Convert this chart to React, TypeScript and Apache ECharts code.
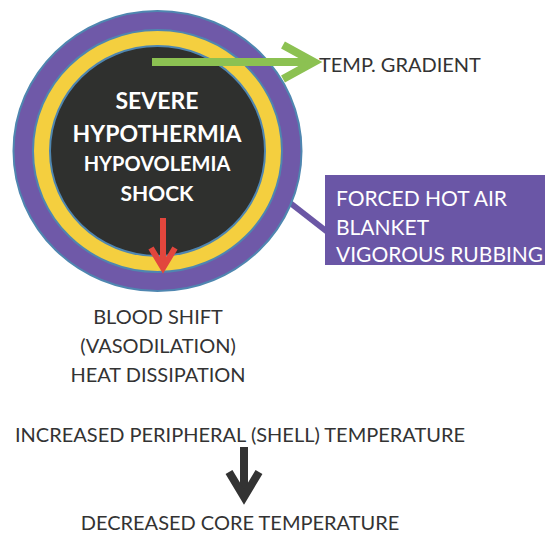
import React, { useEffect, useRef } from "react";
import * as echarts from "echarts";

const coreLines = ["SEVERE", "HYPOTHERMIA", "HYPOVOLEMIA", "SHOCK"];
const gradientLabel = ["TEMP. GRADIENT"];
const treatmentLines = ["FORCED HOT AIR", "BLANKET", "VIGOROUS RUBBING"];
const shiftLines = ["BLOOD SHIFT", "(VASODILATION)", "HEAT DISSIPATION"];
const flowLines = ["INCREASED PERIPHERAL (SHELL) TEMPERATURE", "DECREASED CORE TEMPERATURE"];

const FONT = "Lato, 'Open Sans', sans-serif";

export default function App() {
  const ref = useRef<HTMLDivElement>(null);
  useEffect(() => {
    if (!ref.current) return;
    const chart = echarts.init(ref.current, null, { renderer: "svg" });
    const cx = 157.5;
    const cy = 151;
    const coreY = [100, 133, 163, 192];
    const coreSize = [23, 23, 20, 21];
    const treatY = [197, 226, 253];
    const shiftY = [316, 345, 374];
    const flowY = [434, 522];
    const graphic: any[] = [
      { type: "rect", shape: { x: 0, y: 0, width: 545, height: 533 }, style: { fill: "#ffffff" }, z: 0 },
      // connector to treatment box
      { type: "line", shape: { x1: 280, y1: 195, x2: 330, y2: 234 }, style: { stroke: "#6b57a5", lineWidth: 6 }, z: 1 },
      { type: "ellipse", shape: { cx, cy, rx: 144, ry: 140 }, style: { fill: "#6f59a8", stroke: "#4f86b0", lineWidth: 2 }, z: 2 },
      { type: "ellipse", shape: { cx, cy, rx: 124.5, ry: 121 }, style: { fill: "#f4cf3f", stroke: "#4f86b0", lineWidth: 2 }, z: 3 },
      { type: "ellipse", shape: { cx, cy, rx: 107.5, ry: 105 }, style: { fill: "#2f302e", stroke: "#4f86b0", lineWidth: 2 }, z: 4 },
      // treatment box
      { type: "rect", shape: { x: 325, y: 175, width: 222, height: 90 }, style: { fill: "#6a56a6" }, z: 2 },
      // green arrow
      { type: "polyline", shape: { points: [[152, 62], [312, 62]] }, style: { stroke: "#8cc152", lineWidth: 8, fill: null }, z: 6 },
      { type: "polyline", shape: { points: [[283, 45], [314, 62], [283, 79]] }, style: { stroke: "#8cc152", lineWidth: 8, fill: null, lineJoin: "miter" }, z: 6 },
      // red arrow
      { type: "polyline", shape: { points: [[163, 218], [163, 266]] }, style: { stroke: "#e2463d", lineWidth: 6, fill: null }, z: 6 },
      { type: "polyline", shape: { points: [[151, 248], [163, 268], [175, 248]] }, style: { stroke: "#e2463d", lineWidth: 6, fill: null, lineJoin: "miter" }, z: 6 },
      // black arrow
      { type: "polyline", shape: { points: [[244, 447], [244, 496]] }, style: { stroke: "#333333", lineWidth: 8, fill: null }, z: 6 },
      { type: "polyline", shape: { points: [[229, 472], [244, 497], [259, 472]] }, style: { stroke: "#333333", lineWidth: 8, fill: null, lineJoin: "miter" }, z: 6 },
    ];
    coreLines.forEach((t, i) => {
      graphic.push({
        type: "text", x: 157, y: coreY[i], z: 7,
        style: { text: t, fill: "#ffffff", font: `bold ${coreSize[i]}px ${FONT}`, textAlign: "center", textVerticalAlign: "middle" },
      });
    });
    gradientLabel.forEach((t) => {
      graphic.push({
        type: "text", x: 319, y: 64, z: 7,
        style: { text: t, fill: "#333333", font: `20px ${FONT}`, textAlign: "left", textVerticalAlign: "middle" },
      });
    });
    treatmentLines.forEach((t, i) => {
      graphic.push({
        type: "text", x: 336, y: treatY[i], z: 7,
        style: { text: t, fill: "#ffffff", font: `21px ${FONT}`, textAlign: "left", textVerticalAlign: "middle" },
      });
    });
    shiftLines.forEach((t, i) => {
      graphic.push({
        type: "text", x: 158, y: shiftY[i], z: 7,
        style: { text: t, fill: "#333333", font: `20px ${FONT}`, textAlign: "center", textVerticalAlign: "middle" },
      });
    });
    flowLines.forEach((t, i) => {
      graphic.push({
        type: "text", x: 240, y: flowY[i], z: 7,
        style: { text: t, fill: "#333333", font: `20px ${FONT}`, textAlign: "center", textVerticalAlign: "middle" },
      });
    });
    chart.setOption({ animation: false, graphic });
    return () => chart.dispose();
  }, []);
  return <div ref={ref} style={{ position: "fixed", left: 0, top: 0, width: 545, height: 533, background: "#fff" }} />;
}
